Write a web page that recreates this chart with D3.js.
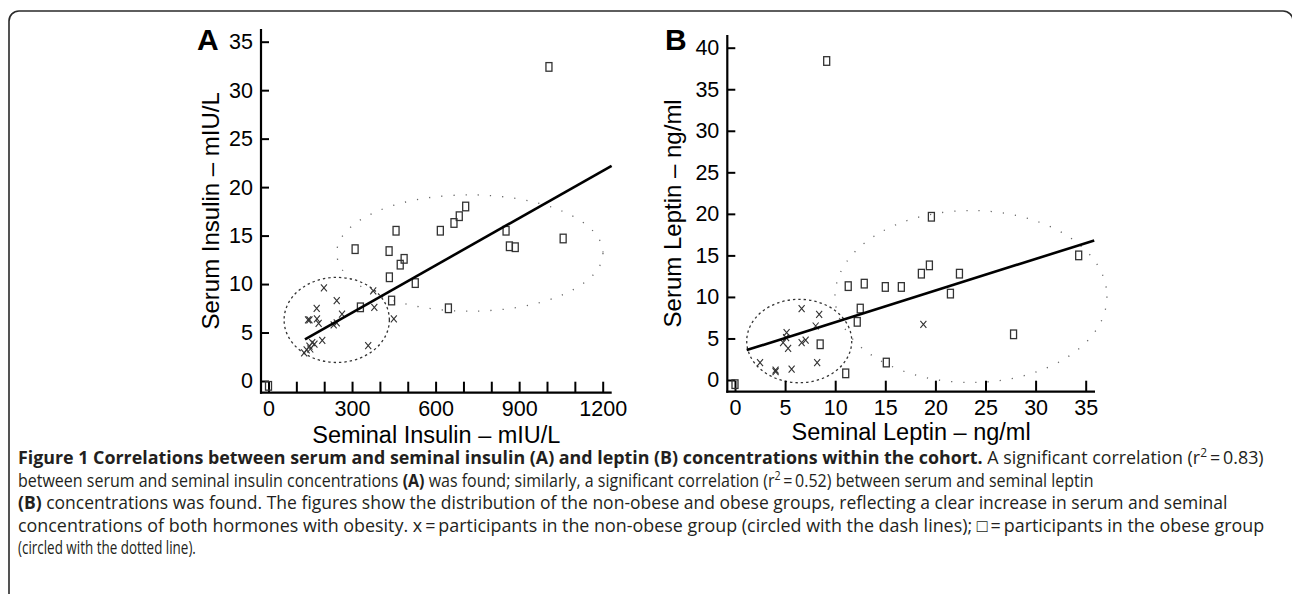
<!DOCTYPE html>
<html>
<head>
<meta charset="utf-8">
<script src="https://cdn.jsdelivr.net/npm/d3@7"></script>
<style>
  html, body { margin: 0; padding: 0; background: #fff; }
  svg { display: block; }
</style>
</head>
<body>
<svg id="chart" width="1292" height="594"></svg>
<script>
// ---------- DATA ----------
// Panel A: insulin (x = seminal, y = serum), mIU/L
const insulinObeseX = [0, 311, 433, 458, 487, 473, 434, 527, 442, 330, 646, 617, 666, 685, 708, 1007, 853, 865, 886, 1058];
const insulinObeseY = [-0.5, 13.6, 13.4, 15.5, 12.6, 12.0, 10.7, 10.1, 8.3, 7.6, 7.5, 15.5, 16.3, 17.0, 18.0, 32.4, 15.5, 13.9, 13.8, 14.7];
const insulinNonObeseX = [199, 245, 264, 173, 147, 174, 180, 234, 245, 376, 380, 450, 358, 193, 165, 147, 137, 157, 128, 150, 142];
const insulinNonObeseY = [9.6, 8.3, 6.9, 7.5, 6.3, 6.4, 5.95, 5.8, 6.0, 9.3, 7.6, 6.4, 3.65, 4.2, 3.8, 3.6, 3.2, 3.95, 2.9, 3.3, 6.3];
const insulinFitX = [131, 1232];
const insulinFitY = [4.3, 22.2];
// ellipses: [centre x, centre y, radius x, radius y] in data units
const insulinNonObeseEllipse = [245, 6.3, 189, 4.39];
const insulinObeseEllipse = [723, 13.2, 478, 6.0];
const insulinXTicks = [0, 100, 200, 300, 400, 500, 600, 700, 800, 900, 1000, 1100, 1200];
const insulinXLabels = [0, 300, 600, 900, 1200];
const insulinYTicks = [0, 5, 10, 15, 20, 25, 30, 35];

// Panel B: leptin (x = seminal, y = serum), ng/ml
const leptinObeseX = [0, 11.3, 12.9, 15.0, 16.6, 12.5, 12.2, 8.5, 11.05, 15.1, 9.15, 19.6, 19.4, 18.6, 22.4, 21.5, 27.8, 34.3];
const leptinObeseY = [-0.5, 11.3, 11.6, 11.2, 11.2, 8.6, 7.0, 4.3, 0.8, 2.1, 38.4, 19.65, 13.8, 12.8, 12.8, 10.4, 5.5, 15.0];
const leptinNonObeseX = [6.65, 8.4, 8.05, 5.15, 5.1, 4.8, 5.3, 6.65, 7.05, 2.5, 4.05, 4.05, 5.65, 8.2, 18.8];
const leptinNonObeseY = [8.6, 7.9, 6.5, 5.7, 5.1, 4.5, 3.8, 4.5, 4.8, 2.1, 1.2, 1.0, 1.3, 2.1, 6.7];
const leptinFitX = [1.17, 35.85];
const leptinFitY = [3.6, 16.8];
const leptinNonObeseEllipse = [6.41, 4.69, 5.24, 5.02];
const leptinObeseEllipse = [23.55, 10.05, 13.57, 10.35];
const leptinXTicks = [0, 5, 10, 15, 20, 25, 30, 35];
const leptinYTicks = [0, 5, 10, 15, 20, 25, 30, 35, 40];

// ---------- DRAW ----------
const svg = d3.select("#chart");
const FONT = "'Liberation Sans', Arial, sans-serif";

// outer frame
svg.append("rect")
  .attr("x", 9).attr("y", 11).attr("width", 1284).attr("height", 620)
  .attr("rx", 10).attr("ry", 10)
  .attr("fill", "none").attr("stroke", "#2a2a2a").attr("stroke-width", 1.6);

function panel(cfg) {
  const g = svg.append("g");
  const x = d3.scaleLinear().domain(cfg.xDomain).range(cfg.xRange);
  const y = d3.scaleLinear().domain(cfg.yDomain).range(cfg.yRange);

  // ellipses
  const ell = (e, dash, color, w) => g.append("ellipse")
    .attr("cx", x(e[0])).attr("cy", y(e[1]))
    .attr("rx", x(e[0] + e[2]) - x(e[0])).attr("ry", y(e[1]) - y(e[1] + e[3]))
    .attr("fill", "none").attr("stroke", color).attr("stroke-width", w)
    .attr("stroke-dasharray", dash);
  ell(cfg.obeseEllipse, "1.2 11", "#666", 1.3);
  ell(cfg.nonObeseEllipse, "2.4 3", "#333", 1.3);

  // axes (inward ticks)
  const yAxis = d3.axisLeft(y).tickValues(cfg.yTicks).tickSizeInner(-8).tickSizeOuter(0).tickPadding(8);
  const yg = g.append("g").attr("transform", `translate(${cfg.axisX},0)`).call(yAxis);
  const xAxis = d3.axisBottom(x).tickValues(cfg.xTicks).tickSizeInner(-11).tickSizeOuter(0).tickPadding(8)
    .tickFormat(cfg.xFormat);
  const xg = g.append("g").attr("transform", `translate(0,${cfg.axisY})`).call(xAxis);
  [yg, xg].forEach(a => {
    a.select(".domain").remove();
    a.selectAll(".tick line").attr("stroke", "#000").attr("stroke-width", 2);
    a.selectAll(".tick text").attr("fill", "#000").style("font-family", FONT).style("font-size", "21.5px");
  });
  g.append("line").attr("x1", cfg.axisX).attr("x2", cfg.axisX).attr("y1", cfg.axisTop).attr("y2", cfg.axisY + 1)
    .attr("stroke", "#000").attr("stroke-width", 2.2);
  g.append("line").attr("x1", cfg.axisX - 1).attr("x2", cfg.axisRight).attr("y1", cfg.axisY).attr("y2", cfg.axisY)
    .attr("stroke", "#000").attr("stroke-width", 2.2);

  // markers
  g.selectAll(".sq").data(d3.range(cfg.obX.length)).join("rect").attr("class", "sq")
    .attr("x", i => x(cfg.obX[i]) - 3).attr("y", i => y(cfg.obY[i]) - 4.3)
    .attr("width", 6).attr("height", 8.6)
    .attr("fill", "none").attr("stroke", "#333").attr("stroke-width", 1.3);
  g.selectAll(".cx").data(d3.range(cfg.noX.length)).join("path").attr("class", "cx")
    .attr("transform", i => `translate(${x(cfg.noX[i])},${y(cfg.noY[i])})`)
    .attr("d", "M-3,-3.5L3,3.5M-3,3.5L3,-3.5")
    .attr("fill", "none").attr("stroke", "#333").attr("stroke-width", 1.1);

  // regression line
  g.append("path")
    .datum([0, 1])
    .attr("d", d3.line().x(i => x(cfg.fitX[i])).y(i => y(cfg.fitY[i])))
    .attr("fill", "none").attr("stroke", "#000").attr("stroke-width", 2.6);

  // titles
  g.append("text").attr("x", cfg.letterX).attr("y", 50).text(cfg.letter)
    .style("font-family", FONT).style("font-size", "30px").style("font-weight", "bold");
  g.append("text")
    .attr("transform", `translate(${cfg.yTitleX},${(cfg.axisTop + cfg.axisY) / 2}) rotate(-90)`)
    .attr("text-anchor", "middle").text(cfg.yTitle)
    .style("font-family", FONT).style("font-size", "24px");
  g.append("text")
    .attr("x", (cfg.axisX + cfg.axisRight) / 2).attr("y", cfg.xTitleY)
    .attr("text-anchor", "middle").text(cfg.xTitle)
    .style("font-family", FONT).style("font-size", "23.5px");
}

panel({
  xDomain: [0, 1200], xRange: [268.5, 602.7],
  yDomain: [0, 35], yRange: [381, 41.7],
  axisX: 261, axisY: 392.7, axisTop: 29, axisRight: 611.7,
  xTicks: insulinXTicks, yTicks: insulinYTicks,
  xFormat: d => insulinXLabels.includes(d) ? d : "",
  obX: insulinObeseX, obY: insulinObeseY, noX: insulinNonObeseX, noY: insulinNonObeseY,
  fitX: insulinFitX, fitY: insulinFitY,
  nonObeseEllipse: insulinNonObeseEllipse, obeseEllipse: insulinObeseEllipse,
  letter: "A", letterX: 197, yTitleX: 219, xTitleY: 443,
  yTitle: "Serum Insulin \u2013 mIU/L", xTitle: "Seminal Insulin \u2013 mIU/L"
});

panel({
  xDomain: [0, 35], xRange: [735, 1085.7],
  yDomain: [0, 40], yRange: [380, 47.7],
  axisX: 727.3, axisY: 391.7, axisTop: 35, axisRight: 1095,
  xTicks: leptinXTicks, yTicks: leptinYTicks,
  xFormat: d => d,
  obX: leptinObeseX, obY: leptinObeseY, noX: leptinNonObeseX, noY: leptinNonObeseY,
  fitX: leptinFitX, fitY: leptinFitY,
  nonObeseEllipse: leptinNonObeseEllipse, obeseEllipse: leptinObeseEllipse,
  letter: "B", letterX: 665, yTitleX: 681, xTitleY: 440,
  yTitle: "Serum Leptin \u2013 ng/ml", xTitle: "Seminal Leptin \u2013 ng/ml"
});

// ---------- CAPTION ----------
const CAP = "'Open Sans', 'Noto Sans', sans-serif";
const captionLines = [
  { y: 464, w: 1247, parts: [
    { t: "Figure 1 Correlations between serum and seminal insulin (A) and leptin (B) concentrations within the cohort.", b: true },
    { t: " A significant correlation (r" }, { t: "2", sup: true }, { t: "\u2009=\u20090.83)" } ] },
  { y: 487, w: 1077, parts: [
    { t: "between serum and seminal insulin concentrations " }, { t: "(A)", b: true },
    { t: " was found; similarly, a significant correlation (r" }, { t: "2", sup: true },
    { t: "\u2009=\u20090.52) between serum and seminal leptin" } ] },
  { y: 509, w: 1210, parts: [
    { t: "(B)", b: true },
    { t: " concentrations was found. The figures show the distribution of the non-obese and obese groups, reflecting a clear increase in serum and seminal" } ] },
  { y: 532, w: 1247, parts: [
    { t: "concentrations of both hormones with obesity. x\u2009=\u2009participants in the non-obese group (circled with the dash lines); \u25A1\u2009=\u2009participants in the obese group" } ] },
  { y: 554, w: 178, parts: [ { t: "(circled with the dotted line)." } ] }
];
captionLines.forEach(line => {
  const t = svg.append("text").attr("x", 0).attr("y", 0)
    .style("font-family", CAP).style("font-size", "18px").attr("fill", "#231f20");
  let afterSup = false;
  line.parts.forEach(p => {
    const s = t.append("tspan").text(p.t);
    if (p.b) s.style("font-weight", "bold");
    if (p.sup) s.attr("dy", -7).style("font-size", "12px");
    else if (afterSup) s.attr("dy", 7);
    afterSup = !!p.sup;
  });
  const w = t.node().getBBox().width;
  t.attr("transform", `translate(18,${line.y}) scale(${line.w / w},1)`);
});
</script>
</body>
</html>
